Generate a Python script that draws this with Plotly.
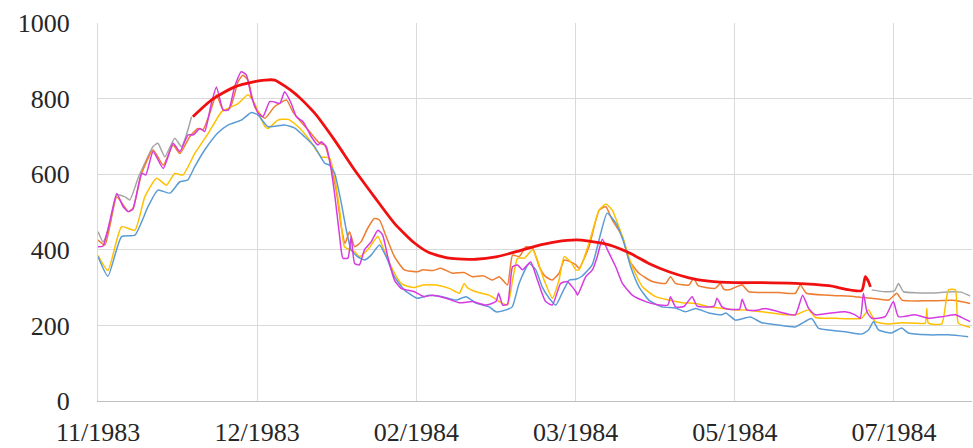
import pandas as pd
import plotly.graph_objects as go

START = "1983-11-01"
TICK_DAYS = [0, 50, 100, 150, 200, 250]
TICK_LABELS = ["11/1983", "12/1983", "02/1984", "03/1984", "05/1984", "07/1984"]
Y_TICKS = [0, 200, 400, 600, 800, 1000]

blue_days = [0, 3.1, 7.4, 11.6, 15.7, 18.8, 22.6, 25.7, 28.2, 30.4, 33.5, 37.6, 40.8, 45, 48.2, 50.2, 53.3, 58.6, 61.8,
             64.9, 68, 71.2, 72.7, 74.3, 76.4, 78, 79.5, 81.5, 83.7, 85.8, 88.4, 90.5, 93.1, 96.2, 100.3, 104.1, 108.2,
             112.4, 115.6, 118.7, 122.9, 125, 128.1, 130.1, 132.3, 135.4, 137.5, 139.5, 141.7, 143.8, 145.8, 148, 150.1,
             152, 155.2, 157.9, 159.9, 162.6, 165.2, 167.3, 169.9, 173, 177.1, 181.4, 184.5, 187.7, 191.8, 195.9, 197.2,
             200.2, 204.9, 208.5, 213.8, 219, 224.1, 226.3, 229.5, 234.7, 239.8, 242, 243.6, 245.1, 249.2, 252.4, 254.5,
             260.8, 267.1, 273.3]
blue_vals = [382, 330, 435, 439, 514, 558, 550, 580, 585, 620, 664, 709, 730, 743, 763, 757, 726, 730, 722,
             699, 673, 629, 624, 603, 524, 452, 400, 382, 373, 386, 413, 382, 329, 294, 272, 280, 276,
             267, 276, 259, 249, 236, 241, 249, 312, 364, 347, 302, 272, 254, 286, 320, 322,
             330, 360, 444, 497, 471, 418, 355, 302, 267, 249, 246, 236, 245, 233, 228, 233,
             214, 222, 207, 201, 196, 218, 192, 188, 183, 177, 188, 210, 188, 180, 193, 180,
             175, 175, 170]

yellow_days = [0, 3.1, 7.4, 11.6, 14.7, 18.4, 21.5, 24.1, 26.7, 30.4, 34.6, 38.8, 40.8, 44, 47.1, 49.2, 52.4, 53.4,
               56.5, 59.7, 62.8, 66.5, 70.1, 72.7, 74.3, 75.9, 77.4, 79, 80.6, 82.1, 84.7, 87.9, 89.4, 92.1, 95.2,
               97.8, 99.4, 102, 106.2, 110.3, 113.5, 115, 116, 118.7, 122.9, 126, 128.6, 130.2, 131.8, 133.9, 136.5,
               138, 140.1, 142.7, 144.8, 146.4, 148.5, 150.1, 151.1, 154.2, 157.4, 159.5, 161.5, 164.7, 167.8, 171,
               175.1, 179.3, 183.5, 187.7, 191.8, 196, 200.2, 203.3, 208.6, 213.8, 219, 223.2, 225.3, 231.6, 239.8,
               242, 244.1, 248.3, 252.4, 256.6, 259.8, 260.3, 260.8, 265, 267.1, 269.3, 270.2, 273.9]
yellow_vals = [385, 345, 461, 452, 540, 589, 571, 602, 598, 655, 708, 765, 774, 787, 810, 787, 726, 721,
               743, 745, 726, 690, 646, 643, 593, 505, 408, 400, 395, 382, 400, 435, 408, 355, 311,
               302, 300, 307, 307, 298, 285, 311, 300, 289, 280, 263, 254, 320, 378, 378, 400,
               373, 320, 272, 320, 382, 368, 347, 347, 417, 505, 521, 505, 435, 355, 302,
               276, 267, 260, 258, 249, 245, 241, 241, 236, 230, 228, 241, 221, 219, 219,
               241, 210, 204, 207, 206, 206, 245, 206, 204, 294, 294, 206, 195]

magenta_days = [0, 1.6, 3.8, 5.9, 7.9, 9.5, 11, 13.7, 15, 17.3, 20.5, 23.6, 25.7, 28.3, 30, 32, 33.5, 35.6, 37.2,
                39.3, 41, 42.9, 45, 46.6, 48.2, 50.3, 51.8, 53.9, 55, 57.1, 58.6, 60.7, 62.3, 64.4, 67, 69.1, 70.1,
                71.7, 72.7, 74.3, 75.9, 76.9, 78.5, 79.5, 80.6, 82.1, 83.7, 85.8, 87.9, 89.4, 91, 93.1, 95.2, 99.4,
                102.5, 105.1, 109.3, 113.5, 117.6, 121.8, 125, 125.8, 127.1, 128.6, 130.2, 131.8, 133.3, 135.9, 138,
                140.6, 142.7, 145.3, 147.4, 150.1, 150.6, 153.2, 155.3, 156.8, 158.4, 160, 162.6, 164.7, 167.8, 172,
                176.2, 179, 179.8, 181.4, 184, 186.6, 188.2, 193.5, 194.4, 196, 198.1, 201.5, 202.3, 203.8, 207,
                209.6, 213.8, 219, 221.3, 223.2, 225.3, 229.5, 234.7, 237.8, 239.4, 240.4, 241.5, 243, 247.2, 249.8,
                251.4, 256.6, 260.8, 265, 269.3, 271, 273.9]
magenta_vals = [408, 410, 479, 549, 514, 501, 508, 602, 598, 660, 615, 682, 660, 704, 704, 721, 713, 787, 831,
                770, 770, 831, 871, 862, 805, 761, 752, 792, 792, 787, 818, 787, 752, 739, 699, 677, 686,
                673, 638, 549, 435, 378, 378, 435, 364, 360, 400, 421, 452, 439, 382, 320, 298, 289,
                276, 280, 272, 260, 263, 254, 263, 285, 254, 256, 355, 360, 347, 368, 320,
                263, 254, 311, 316, 289, 280, 329, 347, 382, 428, 400, 355, 311, 280, 263,
                254, 254, 276, 249, 250, 276, 251, 251, 272, 249, 243, 243, 269, 241, 240,
                245, 236, 228, 280, 245, 228, 232, 236, 228, 219, 285, 236, 219, 223, 263,
                223, 228, 219, 223, 228, 222, 210]

orange_days = [0, 2.2, 5.9, 9.5, 11, 13.7, 17.3, 20.5, 23.6, 25.7, 28.8, 31.4, 33, 35.1, 37.2, 39.3, 41.5, 44, 45.5,
               47.1, 49.2, 52.4, 55.5, 59.2, 61.2, 63.3, 66.5, 69.6, 71.2, 72.7, 74.8, 76.4, 77.6, 79, 80.6, 82.6,
               84.7, 86.8, 88.4, 90.5, 93.1, 96.2, 100.4, 102, 105.1, 107.7, 111.4, 115, 117.6, 121, 123.9, 126,
               128.6, 130.2, 132.3, 134.4, 136.5, 138.6, 140.6, 142.7, 144.8, 146.4, 148.5, 150.1, 151.1, 154.2,
               157.4, 159.5, 161.5, 164.7, 166.8, 169.9, 174.1, 178.3, 179.8, 181.4, 185.6, 187.1, 188.5, 193.9,
               195.5, 196.5, 198.1, 202.3, 204.4, 213.8, 219, 220.6, 222.5, 229.5, 237.8, 239.8, 243, 248.3, 250.9,
               252.5, 260.8, 269.3, 273.9]
orange_vals = [426, 413, 540, 501, 510, 602, 664, 624, 677, 655, 699, 721, 718, 761, 810, 770, 775, 845, 862,
               849, 779, 748, 779, 796, 765, 743, 712, 682, 677, 638, 558, 461, 417, 448, 408, 421,
               457, 483, 479, 435, 382, 347, 342, 347, 345, 351, 338, 340, 329, 331, 320, 329,
               307, 386, 382, 408, 404, 355, 329, 320, 338, 373, 368, 360, 351, 408,
               505, 514, 479, 435, 373, 338, 316, 311, 329, 311, 307, 325, 305, 298,
               311, 296, 294, 307, 289, 287, 285, 307, 285, 280, 276, 274, 272, 267, 285,
               267, 265, 266, 258]

gray_days = [0, 1.6, 3.8, 5.9, 8.5, 10, 12.6, 14.7, 17.3, 18.8, 21, 24.1, 26.2, 27.6, 29.4,
             None,
             243, 247.2, 250.2, 251.4, 253, 257.7, 263, 268.2, 271, 273.9]
gray_vals = [448, 421, 470, 545, 540, 532, 590, 629, 673, 682, 646, 695, 673, 700, 752,
             None,
             294, 289, 292, 311, 289, 286, 286, 289, 288, 278]

red_days = [29.8, 35.6, 42.9, 49.2, 52.4, 55.5, 61.8, 68, 74.3, 80.6, 86.8, 93.1, 99.4, 104.1, 110.3, 118.7, 125,
            131.3, 137.5, 143.8, 150.1, 154.2, 160.5, 166.8, 173, 179.3, 185.6, 191.8, 200.2, 208.5, 219, 229.5,
            239.8, 241, 242, 242.6]
red_vals = [752, 796, 831, 845, 849, 849, 814, 762, 690, 611, 540, 470, 418, 392, 378, 375, 381,
            395, 410, 421, 426, 423, 413, 392, 364, 342, 326, 317, 313, 313, 311, 305,
            292, 329, 316, 302]

start = pd.Timestamp(START)


def to_dates(days):
    return [None if d is None else start + pd.Timedelta(days=d) for d in days]


series = [
    ("gray", gray_days, gray_vals, "#A5A5A5", 1.5),
    ("orange", orange_days, orange_vals, "#ED7D31", 1.5),
    ("yellow", yellow_days, yellow_vals, "#FFC000", 1.5),
    ("blue", blue_days, blue_vals, "#5B9BD5", 1.5),
    ("magenta", magenta_days, magenta_vals, "#D63AE0", 1.5),
]

fig = go.Figure()
for name, d, v, c, w in series:
    fig.add_trace(go.Scatter(x=to_dates(d), y=v, mode="lines", name=name,
                             line=dict(color=c, width=w, shape="spline", smoothing=0.5),
                             connectgaps=False, showlegend=False))
fig.add_trace(go.Scatter(x=to_dates(red_days), y=red_vals, mode="lines", name="red",
                         line=dict(color="#F01010", width=2.8, shape="spline", smoothing=0.6),
                         showlegend=False))

font = dict(family="Liberation Serif, Times New Roman, serif", size=26, color="#262626")

fig.update_layout(
    width=973, height=448,
    margin=dict(l=98, r=1, t=23, b=47, autoexpand=False),
    paper_bgcolor="white", plot_bgcolor="white",
    font=font,
)
fig.update_xaxes(
    range=[start, start + pd.Timedelta(days=274.5)],
    tickvals=to_dates(TICK_DAYS), ticktext=TICK_LABELS,
    showgrid=True, gridcolor="#D9D9D9", gridwidth=1,
    showline=True, linecolor="#BFBFBF", linewidth=1,
    zeroline=False, ticks="", ticklabelstandoff=8, tickfont=font,
)
fig.update_yaxes(
    range=[0, 1000], tickvals=Y_TICKS,
    showgrid=True, gridcolor="#D9D9D9", gridwidth=1,
    showline=True, linecolor="#D9D9D9", linewidth=1,
    zeroline=False, ticks="", ticklabelstandoff=22, tickfont=font,
)

fig.write_html(
    "out.html",
    config={"displayModeBar": False},
    post_script="document.body.style.margin='0';document.body.style.overflow='hidden';",
)
